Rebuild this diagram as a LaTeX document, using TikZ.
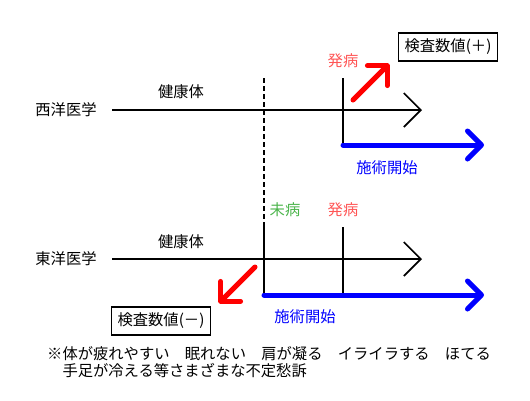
\documentclass[tikz,border=0pt]{standalone}
\usepackage{fontspec}
\setmainfont{Noto Sans CJK JP}
\usetikzlibrary{arrows.meta,positioning}

\definecolor{onsetred}{RGB}{255,85,85}
\definecolor{mibyogreen}{RGB}{75,180,75}

\tikzset{
  timeline/.style={line width=1.7pt,-{Straight Barb[length=17pt,width=34pt]}},
  marker/.style={line width=1.7pt},
  treatline/.style={blue,line width=5pt,line cap=round,-{Straight Barb[length=14pt,width=28pt,round]}},
  valarrow/.style={red,line width=5pt,line cap=round,-{Straight Barb[length=14pt,width=28pt,round]}},
  valbox/.style={draw,line width=1.3pt,inner xsep=6pt,inner ysep=6pt}
}

\begin{document}
\begin{tikzpicture}[x=1pt,y=-1pt,every node/.style={font=\fontsize{15.3}{17}\selectfont,inner sep=0pt}]
  \useasboundingbox (0,0) rectangle (530,400);

  % western medicine
  \node (west) at (66,110) {西洋医学};
  \coordinate (wstart) at (112,110);
  \coordinate (wend) at (422,110);
  \draw[timeline] (wstart) -- (wend);
  \node (whealthy) at (181,92) {健康体};
  \node[text=onsetred] (wonset) at (343,61) {発病};
  \coordinate (wmtop) at (343,78);
  \coordinate (wmbot) at (343,145);
  \draw[marker] (wmtop) -- (wmbot);
  \coordinate (wtreat) at (484,145);
  \draw[treatline] (wmbot) -- (wtreat);
  \node[text=blue] (wtreatlbl) at (387,168) {施術開始};
  \node[valbox] (plus) at (448,47) {検査数値(＋)};
  \coordinate (wrs) at (353,100);
  \coordinate (wre) at (389,64);
  \draw[valarrow] (wrs) -- (wre);

  % border between healthy and pre-disease
  \coordinate (dtop) at (264,78);
  \coordinate (dbot) at (264,222);
  \draw[marker,dash pattern=on 5pt off 3pt] (dtop) -- (dbot);

  % eastern medicine
  \node (east) at (66,259) {東洋医学};
  \coordinate (estart) at (112,259);
  \coordinate (eend) at (422,259);
  \draw[timeline] (estart) -- (eend);
  \node (ehealthy) at (181,242) {健康体};
  \node[text=mibyogreen] (emibyo) at (285,210) {未病};
  \node[text=onsetred] (eonset) at (343,210) {発病};
  \coordinate (embot) at (264,295);
  \draw[marker] (dbot) -- (embot);
  \coordinate (entop) at (343,227);
  \coordinate (enbot) at (343,295);
  \draw[marker] (entop) -- (enbot);
  \coordinate (etreat) at (484,295);
  \draw[treatline] (embot) -- (etreat);
  \node[text=blue] (etreatlbl) at (305,317) {施術開始};
  \node[valbox] (minus) at (161,321) {検査数値(－)};
  \coordinate (ers) at (255,267);
  \coordinate (ere) at (219,303);
  \draw[valarrow] (ers) -- (ere);

  \node[anchor=north west,align=left] (note) at (47,346)
    {※体が疲れやすい　眠れない　肩が凝る　イライラする　ほてる\\　手足が冷える等さまざまな不定愁訴};
\end{tikzpicture}
\end{document}
